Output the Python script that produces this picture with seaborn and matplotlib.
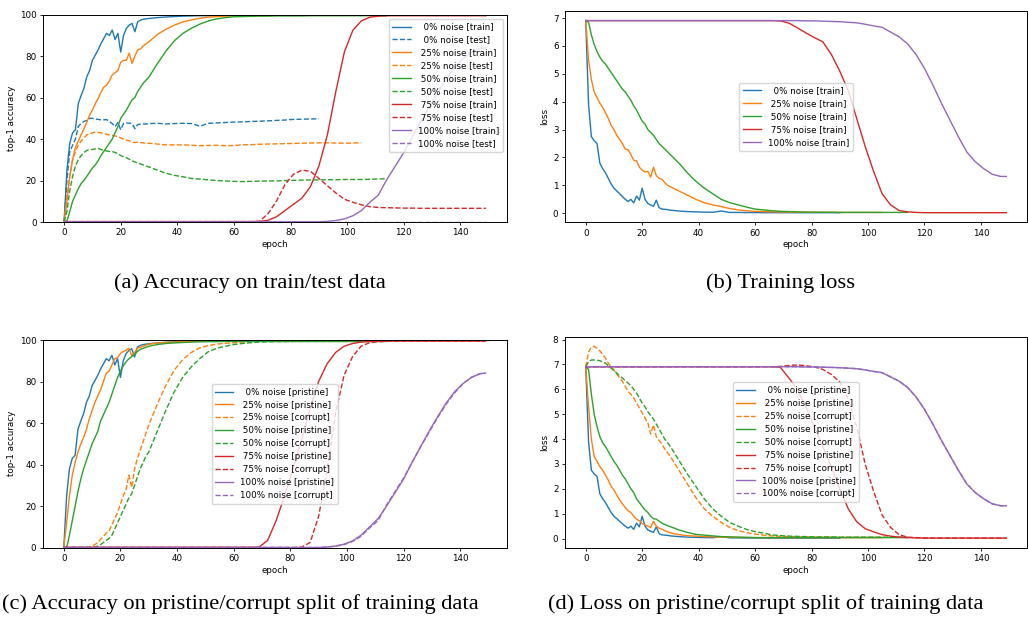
import matplotlib
matplotlib.use("Agg")
import matplotlib.pyplot as plt
import seaborn as sns

epochs = [0, 1, 2, 3, 4, 5, 6, 7, 8, 9,
          10, 11, 12, 13, 14, 15, 16, 17, 18, 19,
          20, 21, 22, 23, 24, 25, 26, 27, 28, 29,
          30, 33, 36, 39, 42, 45, 48, 51, 54, 57,
          60, 63, 66, 69, 72, 75, 78, 81, 84, 87,
          90, 93, 96, 99, 102, 105, 108, 111, 114, 117,
          120, 123, 126, 129, 132, 135, 138, 141, 144, 147,
          149]

noise_levels = [0, 25, 50, 75, 100]

# ---------------- (a) accuracy train / test ----------------
acc_train_0 = [0, 25, 38, 43, 44.5, 57, 61, 64.5, 70, 73,
               78, 80.5, 83, 86, 88.5, 91, 90, 92.6, 88, 91,
               82, 90, 93.4, 95, 95.8, 91.8, 96.6, 97.4, 97.8, 98,
               98.2, 98.6, 98.9, 99.1, 99.3, 99.4, 99.5, 99.5, 99.6, 99.6,
               99.6, 99.7, 99.7, 99.7, 99.7, 99.7, 99.7, 99.7, 99.7, 99.7,
               99.7]
acc_test_0 = [0, 20, 34, 37, 40, 46, 47.5, 48.5, 49, 50,
              50, 49.7, 49.5, 49.3, 49.3, 49.4, 48.5, 47.5, 46, 48,
              44.5, 47.5, 47.8, 47.7, 47.5, 45, 47, 47.2, 47.3, 47.3,
              47.5, 47.6, 47.3, 47.5, 47.6, 47.5, 46.2, 47.6, 47.8, 48,
              48.2, 48.3, 48.5, 48.6, 48.8, 49, 49.2, 49.5, 49.6, 49.7,
              49.8]
acc_train_25 = [0, 10, 22, 30, 36, 39, 42, 45, 48, 51.5,
                54, 57, 59.5, 62.5, 65, 66, 68, 71, 72, 73,
                77, 78, 78, 81.5, 76.5, 80, 83, 83.5, 85, 86,
                87, 90.5, 93, 95, 96.5, 97.5, 98.3, 98.8, 99.1, 99.3,
                99.5, 99.6, 99.6, 99.7, 99.7, 99.7, 99.7, 99.7, 99.7, 99.7,
                99.7, 99.7, 99.7, 99.7, 99.7, 99.7]
acc_test_25 = [0, 12, 22, 30, 34, 37, 39, 40.5, 42, 42.5,
               43, 43.3, 43.2, 43, 42.7, 42.3, 42, 41.8, 41.5, 41.2,
               40.5, 40, 39.5, 39.2, 38.5, 38.3, 38.5, 38.3, 38.2, 38,
               38, 37.6, 37.2, 37.2, 37.2, 37, 36.8, 36.9, 37, 36.8,
               36.9, 37.2, 37.3, 37.5, 37.6, 37.7, 37.8, 37.9, 38, 38.1,
               38.2, 38.2, 38.1, 38, 38.1, 38.2]
acc_train_50 = [0, 0.5, 5, 10, 13, 16, 18.5, 20, 22, 24,
                26, 27.5, 29.5, 32, 34, 36, 38, 40, 43, 46,
                50, 52, 54, 56.5, 59, 60, 63, 65, 67, 68.5,
                70, 76.5, 82.5, 87.5, 91, 93.5, 95.5, 97, 98, 98.6,
                99, 99.1, 99.2, 99.3, 99.3, 99.4, 99.4, 99.4, 99.4, 99.5,
                99.5, 99.5, 99.5, 99.5, 99.5, 99.5, 99.5, 99.5, 99.5]
acc_test_50 = [0, 5, 15, 22, 27, 30, 32, 33.5, 34.5, 35,
               35, 35.3, 35.5, 35, 34.5, 34.3, 34, 34, 33.5, 33,
               32, 31.5, 31, 30.3, 29.5, 29, 28.5, 28, 27.5, 27,
               26.5, 25, 23.5, 22.5, 21.8, 21, 20.7, 20.3, 20, 19.8,
               19.6, 19.5, 19.6, 19.7, 19.8, 19.8, 20, 20.1, 20.2, 20.3,
               20.3, 20.4, 20.4, 20.5, 20.5, 20.5, 20.6, 20.8, 20.8]
acc_train_75 = [0.2, 0.2, 0.2, 0.2, 0.2, 0.2, 0.2, 0.2, 0.2, 0.2,
                0.2, 0.2, 0.2, 0.2, 0.2, 0.2, 0.2, 0.2, 0.2, 0.2,
                0.2, 0.2, 0.2, 0.2, 0.2, 0.2, 0.2, 0.2, 0.2, 0.2,
                0.2, 0.2, 0.2, 0.2, 0.2, 0.2, 0.2, 0.2, 0.2, 0.2,
                0.2, 0.2, 0.2, 0.3, 0.8, 2.5, 5.5, 8.5, 11.5, 17,
                27, 42, 63, 82, 92.5, 97, 98.8, 99.3, 99.5, 99.5,
                99.5, 99.5, 99.5, 99.5, 99.5, 99.5, 99.5, 99.5, 99.5, 99.5,
                99.5]
acc_test_75 = [0.2, 0.2, 0.2, 0.2, 0.2, 0.2, 0.2, 0.2, 0.2, 0.2,
               0.2, 0.2, 0.2, 0.2, 0.2, 0.2, 0.2, 0.2, 0.2, 0.2,
               0.2, 0.2, 0.2, 0.2, 0.2, 0.2, 0.2, 0.2, 0.2, 0.2,
               0.2, 0.2, 0.2, 0.2, 0.2, 0.2, 0.2, 0.2, 0.2, 0.2,
               0.2, 0.2, 0.2, 0.3, 4, 10, 18, 23, 25, 24.5,
               21, 17.5, 14, 11, 9.5, 8.3, 7.4, 7, 6.9, 6.8,
               6.7, 6.7, 6.6, 6.6, 6.6, 6.6, 6.6, 6.6, 6.6, 6.6,
               6.6]
acc_train_100 = [0.1, 0.1, 0.1, 0.1, 0.1, 0.1, 0.1, 0.1, 0.1, 0.1,
                 0.1, 0.1, 0.1, 0.1, 0.1, 0.1, 0.1, 0.1, 0.1, 0.1,
                 0.1, 0.1, 0.1, 0.1, 0.1, 0.1, 0.1, 0.1, 0.1, 0.1,
                 0.1, 0.1, 0.1, 0.1, 0.1, 0.1, 0.1, 0.1, 0.1, 0.1,
                 0.1, 0.1, 0.1, 0.1, 0.1, 0.1, 0.1, 0.1, 0.1, 0.1,
                 0.1, 0.3, 0.7, 1.5, 3, 5.5, 9.5, 13, 20.5, 27,
                 33.5, 41, 48.5, 55.5, 62.5, 69, 74.5, 79, 82, 83.8,
                 84]
acc_test_100 = [0.1, 0.1, 0.1, 0.1, 0.1, 0.1, 0.1, 0.1, 0.1, 0.1,
                0.1, 0.1, 0.1, 0.1, 0.1, 0.1, 0.1, 0.1, 0.1, 0.1,
                0.1, 0.1, 0.1, 0.1, 0.1, 0.1, 0.1, 0.1, 0.1, 0.1,
                0.1, 0.1, 0.1, 0.1, 0.1, 0.1, 0.1, 0.1, 0.1, 0.1,
                0.1, 0.1, 0.1, 0.1, 0.1, 0.1, 0.1, 0.1, 0.1, 0.1,
                0.1, 0.1, 0.1, 0.1, 0.1, 0.1, 0.1, 0.1, 0.1, 0.1,
                0.1, 0.1, 0.1, 0.1, 0.1, 0.1, 0.1, 0.1, 0.1, 0.1,
                0.1]

# ---------------- (b) training loss ----------------
loss_train_0 = [6.91, 3.9, 2.75, 2.6, 2.5, 1.8, 1.6, 1.45, 1.25, 1.05,
                0.9, 0.8, 0.7, 0.6, 0.5, 0.42, 0.5, 0.37, 0.62, 0.47,
                0.9, 0.5, 0.35, 0.3, 0.25, 0.47, 0.2, 0.15, 0.14, 0.13,
                0.11, 0.08, 0.06, 0.05, 0.04, 0.035, 0.08, 0.03, 0.03, 0.025,
                0.025, 0.02, 0.02, 0.02, 0.02, 0.02, 0.02, 0.02, 0.02, 0.02,
                0.02]
loss_train_25 = [6.91, 5.5, 4.8, 4.35, 4.15, 3.95, 3.8, 3.6, 3.4, 3.15,
                 3.0, 2.8, 2.65, 2.5, 2.3, 2.28, 2.1, 1.9, 1.88, 1.65,
                 1.55, 1.48, 1.5, 1.3, 1.65, 1.35, 1.25, 1.22, 1.1, 1.0,
                 0.95, 0.8, 0.65, 0.5, 0.38, 0.3, 0.24, 0.17, 0.12, 0.09,
                 0.07, 0.06, 0.05, 0.045, 0.04, 0.04, 0.04, 0.035, 0.035, 0.035,
                 0.03, 0.03, 0.03, 0.03, 0.03, 0.03]
loss_train_50 = [6.91, 6.85, 6.4, 6.05, 5.8, 5.6, 5.45, 5.35, 5.2, 5.05,
                 4.9, 4.75, 4.6, 4.45, 4.35, 4.2, 4.05, 3.85, 3.7, 3.5,
                 3.3, 3.2, 3.0, 2.9, 2.8, 2.65, 2.5, 2.4, 2.3, 2.2,
                 2.1, 1.8, 1.45, 1.15, 0.9, 0.7, 0.5, 0.38, 0.3, 0.22,
                 0.15, 0.12, 0.09, 0.07, 0.06, 0.05, 0.04, 0.04, 0.035, 0.035,
                 0.03, 0.03, 0.03, 0.03, 0.03, 0.03, 0.03, 0.03, 0.03]
loss_train_75 = [6.91, 6.91, 6.91, 6.91, 6.91, 6.91, 6.91, 6.91, 6.91, 6.91,
                 6.91, 6.91, 6.91, 6.91, 6.91, 6.91, 6.91, 6.91, 6.91, 6.91,
                 6.91, 6.91, 6.91, 6.91, 6.91, 6.91, 6.91, 6.91, 6.91, 6.91,
                 6.91, 6.91, 6.91, 6.91, 6.91, 6.91, 6.91, 6.91, 6.91, 6.91,
                 6.91, 6.91, 6.91, 6.9, 6.82, 6.65, 6.47, 6.3, 6.15, 5.7,
                 5.1, 4.4, 3.4, 2.4, 1.5, 0.7, 0.3, 0.1, 0.05, 0.03,
                 0.02, 0.02, 0.02, 0.02, 0.02, 0.02, 0.02, 0.02, 0.02, 0.02,
                 0.02]
loss_train_100 = [6.91, 6.91, 6.91, 6.91, 6.91, 6.91, 6.91, 6.91, 6.91, 6.91,
                  6.91, 6.91, 6.91, 6.91, 6.91, 6.91, 6.91, 6.91, 6.91, 6.91,
                  6.91, 6.91, 6.91, 6.91, 6.91, 6.91, 6.91, 6.91, 6.91, 6.91,
                  6.91, 6.91, 6.91, 6.91, 6.91, 6.91, 6.91, 6.91, 6.91, 6.91,
                  6.91, 6.91, 6.91, 6.91, 6.91, 6.91, 6.9, 6.9, 6.89, 6.88,
                  6.87, 6.85, 6.83, 6.78, 6.72, 6.67, 6.5, 6.33, 6.08, 5.7,
                  5.2, 4.6, 3.95, 3.35, 2.75, 2.2, 1.85, 1.6, 1.4, 1.32,
                  1.32]

# ---------------- (c) accuracy pristine / corrupt ----------------
acc_pristine_25 = [0, 12, 25, 35, 41, 46, 50, 53, 57, 62,
                   66, 70, 73, 76, 80, 84, 85, 88, 91, 91.5,
                   93.5, 94.5, 95, 96, 92.5, 94, 96, 96.5, 97, 97.5,
                   98, 98.5, 98.8, 99, 99.2, 99.3, 99.4, 99.5, 99.5, 99.5,
                   99.6, 99.6, 99.6, 99.6, 99.6, 99.6, 99.6, 99.6, 99.6, 99.6,
                   99.6, 99.6, 99.6, 99.6, 99.6, 99.6]
acc_corrupt_25 = [0.1, 0.1, 0.1, 0.1, 0.1, 0.1, 0.1, 0.1, 0.1, 0.3,
                  0.8, 1.5, 2.5, 4, 5.5, 7, 8, 11, 14, 17,
                  21, 25, 28, 35, 29, 38, 43, 47, 51, 55,
                  59, 69, 78, 85.5, 90.5, 94, 96.2, 97.3, 98, 98.4,
                  98.7, 99, 99.2, 99.3, 99.4, 99.4, 99.5, 99.5, 99.5, 99.5,
                  99.5, 99.5, 99.5, 99.5, 99.5, 99.5]
acc_pristine_50 = [0, 0, 6, 13, 20, 27, 33, 38, 42, 46,
                   50, 53, 56, 61, 64, 67, 70, 74, 78, 82,
                   85, 87.5, 89.5, 91, 92, 93, 94.5, 95.5, 96, 96.5,
                   97, 97.8, 98.3, 98.6, 98.8, 99, 99.1, 99.2, 99.2, 99.3,
                   99.3, 99.3, 99.3, 99.3, 99.3, 99.3, 99.3, 99.3, 99.3, 99.3,
                   99.3, 99.3, 99.3, 99.3, 99.3, 99.3, 99.3, 99.3, 99.3]
acc_corrupt_50 = [0.1, 0.1, 0.1, 0.1, 0.1, 0.1, 0.1, 0.1, 0.1, 0.1,
                  0.1, 0.3, 0.8, 1.5, 2.5, 3.5, 4.5, 6, 9, 12,
                  15, 18, 21, 24, 26, 30, 34, 38, 41, 44,
                  46, 56, 66, 75, 82, 87, 91, 94.3, 96, 97,
                  97.8, 98.3, 98.7, 99, 99.1, 99.2, 99.2, 99.3, 99.3, 99.3,
                  99.3, 99.3, 99.3, 99.3, 99.3, 99.3, 99.3, 99.3, 99.3]
acc_pristine_75 = [0.2, 0.2, 0.2, 0.2, 0.2, 0.2, 0.2, 0.2, 0.2, 0.2,
                   0.2, 0.2, 0.2, 0.2, 0.2, 0.2, 0.2, 0.2, 0.2, 0.2,
                   0.2, 0.2, 0.2, 0.2, 0.2, 0.2, 0.2, 0.2, 0.2, 0.2,
                   0.2, 0.2, 0.2, 0.2, 0.2, 0.2, 0.2, 0.2, 0.2, 0.2,
                   0.2, 0.2, 0.2, 0.3, 3.5, 13, 25, 38, 52, 67,
                   80, 88.5, 94, 97, 98.3, 99, 99.3, 99.4, 99.5, 99.5,
                   99.5, 99.5, 99.5, 99.5, 99.5, 99.5, 99.5, 99.5, 99.5, 99.5,
                   99.5]
acc_corrupt_75 = [0.1, 0.1, 0.1, 0.1, 0.1, 0.1, 0.1, 0.1, 0.1, 0.1,
                  0.1, 0.1, 0.1, 0.1, 0.1, 0.1, 0.1, 0.1, 0.1, 0.1,
                  0.1, 0.1, 0.1, 0.1, 0.1, 0.1, 0.1, 0.1, 0.1, 0.1,
                  0.1, 0.1, 0.1, 0.1, 0.1, 0.1, 0.1, 0.1, 0.1, 0.1,
                  0.1, 0.1, 0.1, 0.1, 0.1, 0.1, 0.1, 0.1, 0.3, 2.5,
                  15, 37, 65, 83, 92, 97, 98.7, 99.2, 99.4, 99.5,
                  99.5, 99.5, 99.5, 99.5, 99.5, 99.5, 99.5, 99.5, 99.5, 99.5,
                  99.5]
acc_pristine_100 = [0.1, 0.1, 0.1, 0.1, 0.1, 0.1, 0.1, 0.1, 0.1, 0.1,
                    0.1, 0.1, 0.1, 0.1, 0.1, 0.1, 0.1, 0.1, 0.1, 0.1,
                    0.1, 0.1, 0.1, 0.1, 0.1, 0.1, 0.1, 0.1, 0.1, 0.1,
                    0.1, 0.1, 0.1, 0.1, 0.1, 0.1, 0.1, 0.1, 0.1, 0.1,
                    0.1, 0.1, 0.1, 0.1, 0.1, 0.1, 0.1, 0.1, 0.1, 0.1,
                    0.1, 0.3, 0.8, 1.7, 3.3, 6, 10, 14, 20, 26.5,
                    33, 41, 48.5, 56, 63, 69.5, 75, 79, 82, 83.8,
                    84]
acc_corrupt_100 = acc_train_100

# ---------------- (d) loss pristine / corrupt ----------------
loss_pristine_25 = [6.91, 5.3, 4.0, 3.3, 3.1, 2.9, 2.75, 2.55, 2.35, 2.1,
                    1.95, 1.75, 1.55, 1.4, 1.25, 1.12, 1.05, 0.9, 0.78, 0.72,
                    0.6, 0.55, 0.5, 0.45, 0.7, 0.5, 0.42, 0.38, 0.32, 0.27,
                    0.23, 0.16, 0.12, 0.1, 0.08, 0.07, 0.06, 0.05, 0.05, 0.045,
                    0.04, 0.04, 0.04, 0.04, 0.04, 0.04, 0.04, 0.04, 0.04, 0.04,
                    0.04, 0.04, 0.04, 0.04, 0.04, 0.04]
loss_corrupt_25 = [6.91, 7.5, 7.7, 7.73, 7.65, 7.55, 7.4, 7.25, 7.05, 6.9,
                   6.78, 6.62, 6.47, 6.32, 6.12, 5.92, 5.8, 5.65, 5.45, 5.25,
                   5.05, 4.85, 4.65, 4.2, 4.57, 4.1, 3.95, 3.8, 3.6, 3.45,
                   3.3, 2.75, 2.2, 1.65, 1.2, 0.9, 0.65, 0.45, 0.32, 0.24,
                   0.18, 0.14, 0.11, 0.09, 0.08, 0.07, 0.07, 0.06, 0.06, 0.06,
                   0.05, 0.05, 0.05, 0.05, 0.05, 0.05]
loss_pristine_50 = [6.91, 6.8, 5.8, 5.0, 4.5, 4.1, 3.85, 3.7, 3.5, 3.3,
                    3.1, 2.95, 2.75, 2.55, 2.4, 2.2, 2.0, 1.85, 1.6, 1.45,
                    1.3, 1.15, 1.05, 0.9, 0.8, 0.78, 0.7, 0.62, 0.57, 0.52,
                    0.48, 0.35, 0.25, 0.17, 0.14, 0.11, 0.08, 0.07, 0.06, 0.05,
                    0.04, 0.04, 0.04, 0.04, 0.04, 0.04, 0.04, 0.04, 0.04, 0.04,
                    0.04, 0.04, 0.04, 0.04, 0.04, 0.04, 0.04, 0.04, 0.04]
loss_corrupt_50 = [6.91, 7.1, 7.18, 7.18, 7.17, 7.15, 7.1, 7.05, 6.95, 6.85,
                   6.75, 6.65, 6.55, 6.45, 6.35, 6.25, 6.15, 6.0, 5.85, 5.65,
                   5.45, 5.3, 5.1, 4.95, 4.8, 4.6, 4.4, 4.2, 4.0, 3.85,
                   3.7, 3.15, 2.6, 2.1, 1.6, 1.2, 0.9, 0.65, 0.5, 0.37,
                   0.28, 0.22, 0.15, 0.12, 0.1, 0.09, 0.08, 0.07, 0.07, 0.07,
                   0.06, 0.06, 0.06, 0.06, 0.06, 0.06, 0.06, 0.06, 0.06]
loss_pristine_75 = [6.91, 6.91, 6.91, 6.91, 6.91, 6.91, 6.91, 6.91, 6.91, 6.91,
                    6.91, 6.91, 6.91, 6.91, 6.91, 6.91, 6.91, 6.91, 6.91, 6.91,
                    6.91, 6.91, 6.91, 6.91, 6.91, 6.91, 6.91, 6.91, 6.91, 6.91,
                    6.91, 6.91, 6.91, 6.91, 6.91, 6.91, 6.91, 6.91, 6.91, 6.91,
                    6.91, 6.91, 6.91, 6.88, 6.45, 6.0, 5.3, 4.5, 3.7, 2.9,
                    2.0, 1.2, 0.68, 0.4, 0.27, 0.16, 0.1, 0.06, 0.04, 0.03,
                    0.02, 0.02, 0.02, 0.02, 0.02, 0.02, 0.02, 0.02, 0.02, 0.02,
                    0.02]
loss_corrupt_75 = [6.91, 6.91, 6.91, 6.91, 6.91, 6.91, 6.91, 6.91, 6.91, 6.91,
                   6.91, 6.91, 6.91, 6.91, 6.91, 6.91, 6.91, 6.91, 6.91, 6.91,
                   6.91, 6.91, 6.91, 6.91, 6.91, 6.91, 6.91, 6.91, 6.91, 6.91,
                   6.91, 6.91, 6.91, 6.91, 6.91, 6.91, 6.91, 6.91, 6.91, 6.91,
                   6.91, 6.91, 6.91, 6.92, 6.96, 6.98, 6.95, 6.9, 6.8, 6.6,
                   6.3, 5.6, 4.5, 3.0, 1.9, 0.95, 0.45, 0.16, 0.06, 0.04,
                   0.03, 0.02, 0.02, 0.02, 0.02, 0.02, 0.02, 0.02, 0.02, 0.02,
                   0.02]
loss_pristine_100 = loss_train_100
loss_corrupt_100 = loss_train_100

captions = ["(a) Accuracy on train/test data",
            "(b) Training loss",
            "(c) Accuracy on pristine/corrupt split of training data",
            "(d) Loss on pristine/corrupt split of training data"]

pal = sns.color_palette("tab10")
col = {0: pal[0], 25: pal[1], 50: pal[2], 75: pal[3], 100: pal[4]}


def lab(n, kind):
    return f"{n:>3}% noise [{kind}]"


def draw(ax, series):
    for y, n, ls, kind in series:
        sns.lineplot(x=epochs[:len(y)], y=y, ax=ax, color=col[n], linestyle=ls,
                     linewidth=1.0, label=lab(n, kind))


small = 6.3
fig = plt.figure(figsize=(10.28, 6.19), dpi=100)
W, H = 1028, 619


def box(l, r, t, b):
    return [l / W, 1 - b / H, (r - l) / W, (b - t) / H]


ax_a = fig.add_axes(box(43, 507, 14.7, 222))
ax_b = fig.add_axes(box(564.7, 1027.3, 11, 222.3))
ax_c = fig.add_axes(box(42.7, 506.7, 340, 547.7))
ax_d = fig.add_axes(box(564.7, 1027.3, 336.7, 547.7))

draw(ax_a, [(acc_train_0, 0, "-", "train"), (acc_test_0, 0, "--", "test"),
            (acc_train_25, 25, "-", "train"), (acc_test_25, 25, "--", "test"),
            (acc_train_50, 50, "-", "train"), (acc_test_50, 50, "--", "test"),
            (acc_train_75, 75, "-", "train"), (acc_test_75, 75, "--", "test"),
            (acc_train_100, 100, "-", "train"), (acc_test_100, 100, "--", "test")])
draw(ax_b, [(loss_train_0, 0, "-", "train"), (loss_train_25, 25, "-", "train"),
            (loss_train_50, 50, "-", "train"), (loss_train_75, 75, "-", "train"),
            (loss_train_100, 100, "-", "train")])
draw(ax_c, [(acc_train_0, 0, "-", "pristine"),
            (acc_pristine_25, 25, "-", "pristine"), (acc_corrupt_25, 25, "--", "corrupt"),
            (acc_pristine_50, 50, "-", "pristine"), (acc_corrupt_50, 50, "--", "corrupt"),
            (acc_pristine_75, 75, "-", "pristine"), (acc_corrupt_75, 75, "--", "corrupt"),
            (acc_pristine_100, 100, "-", "pristine"), (acc_corrupt_100, 100, "--", "corrupt")])
draw(ax_d, [(loss_train_0, 0, "-", "pristine"),
            (loss_pristine_25, 25, "-", "pristine"), (loss_corrupt_25, 25, "--", "corrupt"),
            (loss_pristine_50, 50, "-", "pristine"), (loss_corrupt_50, 50, "--", "corrupt"),
            (loss_pristine_75, 75, "-", "pristine"), (loss_corrupt_75, 75, "--", "corrupt"),
            (loss_pristine_100, 100, "-", "pristine"), (loss_corrupt_100, 100, "--", "corrupt")])

for ax, ylab, loc in [(ax_a, "top-1 accuracy", "upper right"), (ax_b, "loss", "center"),
                      (ax_c, "top-1 accuracy", "center"), (ax_d, "loss", "center")]:
    ax.set_xlim(-7.45, 156.45)
    ax.set_xlabel("epoch", fontsize=small, labelpad=2)
    ax.set_ylabel(ylab, fontsize=small, labelpad=3)
    ax.tick_params(labelsize=small, length=2.5, width=0.6, pad=2)
    for s in ax.spines.values():
        s.set_linewidth(0.7)
    ax.legend(loc=loc, fontsize=small, handlelength=2.1, borderpad=0.4,
              labelspacing=0.45)

ax_a.set_ylim(0, 100)
ax_c.set_ylim(0, 100)

cap_pos = [(250, 283), (781, 283), (240, 604), (766, 604)]
for (x, y), text in zip(cap_pos, captions):
    fig.text(x / W, 1 - y / H, text, ha="center", va="center",
             family="Liberation Serif", fontsize=16.2)

fig.savefig("out.png", dpi=100)
